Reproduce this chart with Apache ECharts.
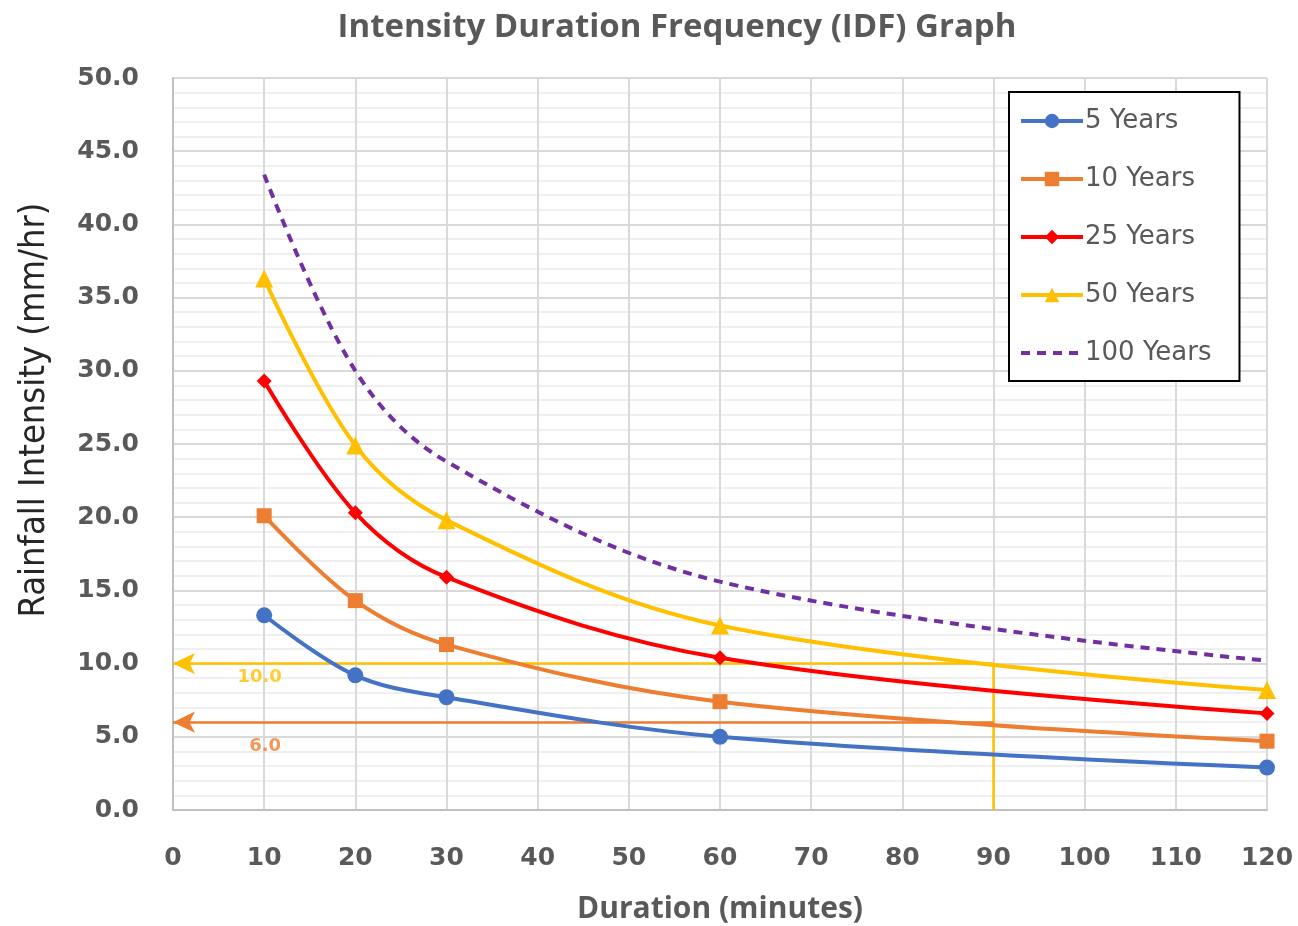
<!DOCTYPE html>
<html>
<head>
<meta charset="utf-8">
<title>IDF Graph</title>
<script src="https://cdn.jsdelivr.net/npm/echarts@6/dist/echarts.min.js"></script>
<style>
  html, body { margin: 0; padding: 0; background: #fff; }
  #chart { width: 1298px; height: 926px; }
</style>
</head>
<body>
<div id="chart"></div>
<script>
// durations in minutes
const durations = [10, 20, 30, 60, 120]

// rainfall intensity (mm/hr) per return period
const years5 = [13.3, 9.2, 7.7, 5.0, 2.9]
const years10 = [20.1, 14.3, 11.3, 7.4, 4.7]
const years25 = [29.3, 20.3, 15.9, 10.4, 6.6]
const years50 = [36.3, 24.9, 19.8, 12.6, 8.2]
const years100 = [43.4, 30.0, 23.8, 15.6, 10.2]

// guide lines: design duration and the intensities it gives
const guideDuration = 90
const guide50 = 10.0
const guide10 = 6.0

const grey = '#595959'
const tickFont = { fontFamily: 'DejaVu Sans', fontWeight: 'bold', fontSize: 25, color: grey }

const pairs = (ys) => durations.map((d, i) => [d, ys[i]])

const curve = (name, ys, color, symbol, size, extra = {}) => ({
  name,
  type: 'line',
  data: pairs(ys),
  smooth: 0.35,
  symbol,
  symbolSize: size,
  itemStyle: { color },
  lineStyle: { color, width: 4 },
  z: 5,
  ...extra
})

const guide = (value, color, withDrop) => {
  const lines = [[{ coord: [guideDuration, value], symbol: 'none' }, { coord: [0, value], symbol: 'arrow' }]]
  if (withDrop) lines.push([{ coord: [guideDuration, value], symbol: 'none' }, { coord: [guideDuration, 0], symbol: 'none' }])
  return {
    type: 'line',
    data: [],
    silent: true,
    markLine: {
      silent: true,
      symbolSize: [16, 22],
      lineStyle: { color, width: 2.5, type: 'solid' },
      label: { show: false },
      data: lines
    }
  }
}

const guideLabel = (x, y, value, color) => ({
  type: 'scatter',
  silent: true,
  symbolSize: 0,
  data: [[x, y]],
  label: { show: true, position: 'inside', formatter: value.toFixed(1), fontFamily: 'DejaVu Sans', fontWeight: 'bold', fontSize: 18, color }
})

const chart = echarts.init(document.getElementById('chart'))

chart.setOption({
  animation: false,
  title: {
    text: 'Intensity Duration Frequency (IDF) Graph',
    left: 672,
    textAlign: 'center',
    top: 6,
    textStyle: { fontFamily: 'Open Sans', fontWeight: 'bold', fontSize: 33, color: grey }
  },
  legend: {
    orient: 'vertical',
    left: 1009,
    top: 92,
    padding: [13, 28, 12, 10],
    itemGap: 26,
    itemWidth: 62,
    itemHeight: 18,
    lineStyle: { width: 4 },
    backgroundColor: '#fff',
    borderColor: '#000',
    borderWidth: 2,
    textStyle: { fontFamily: 'DejaVu Sans', fontSize: 26, color: grey, lineHeight: 32, padding: [0, 0, 0, -3] },
    data: ['5 Years', '10 Years', '25 Years', '50 Years', '100 Years']
  },
  grid: { left: 173, right: 31, top: 78, bottom: 116, outerBoundsMode: 'none' },
  xAxis: {
    type: 'value',
    min: 0,
    max: 120,
    interval: 10,
    name: 'Duration (minutes)',
    nameLocation: 'middle',
    nameGap: 84,
    nameTextStyle: { fontFamily: 'Open Sans', fontWeight: 'bold', fontSize: 30, color: grey },
    axisLine: { show: true, lineStyle: { color: '#bfbfbf', width: 2 } },
    axisTick: { show: false },
    axisLabel: { ...tickFont, margin: 36 },
    splitLine: { show: true, lineStyle: { color: '#d9d9d9', width: 2 } }
  },
  yAxis: {
    type: 'value',
    min: 0,
    max: 50,
    interval: 5,
    name: 'Rainfall Intensity (mm/hr)',
    nameLocation: 'middle',
    nameGap: 120,
    nameTextStyle: { fontFamily: 'DejaVu Sans Condensed', fontSize: 36, color: '#262626', padding: [0, 0, 0, 68] },
    axisLine: { show: true, lineStyle: { color: '#bfbfbf', width: 2 } },
    axisTick: { show: false },
    axisLabel: { ...tickFont, margin: 34, formatter: (v) => v.toFixed(1) },
    splitLine: { show: true, lineStyle: { color: '#d9d9d9', width: 2 } },
    minorTick: { show: false, splitNumber: 5 },
    minorSplitLine: { show: true, lineStyle: { color: '#efefef', width: 2 } }
  },
  series: [
    guide(guide50, '#FFC000', true),
    guide(guide10, '#ED7D31', false),
    guideLabel(9.5, guide50 - 0.95, guide50, '#FFC000'),
    guideLabel(10.1, guide10 - 1.65, guide10, '#ED7D31'),
    curve('5 Years', years5, '#4472C4', 'circle', 16),
    curve('10 Years', years10, '#ED7D31', 'rect', 15),
    curve('25 Years', years25, '#FF0000', 'diamond', 15),
    curve('50 Years', years50, '#FFC000', 'triangle', 18),
    curve('100 Years', years100, '#7030A0', 'none', 0, {
      itemStyle: { color: 'rgba(0,0,0,0)' },
      lineStyle: { color: '#7030A0', width: 4, type: [9, 7] }
    })
  ]
})
</script>
</body>
</html>
